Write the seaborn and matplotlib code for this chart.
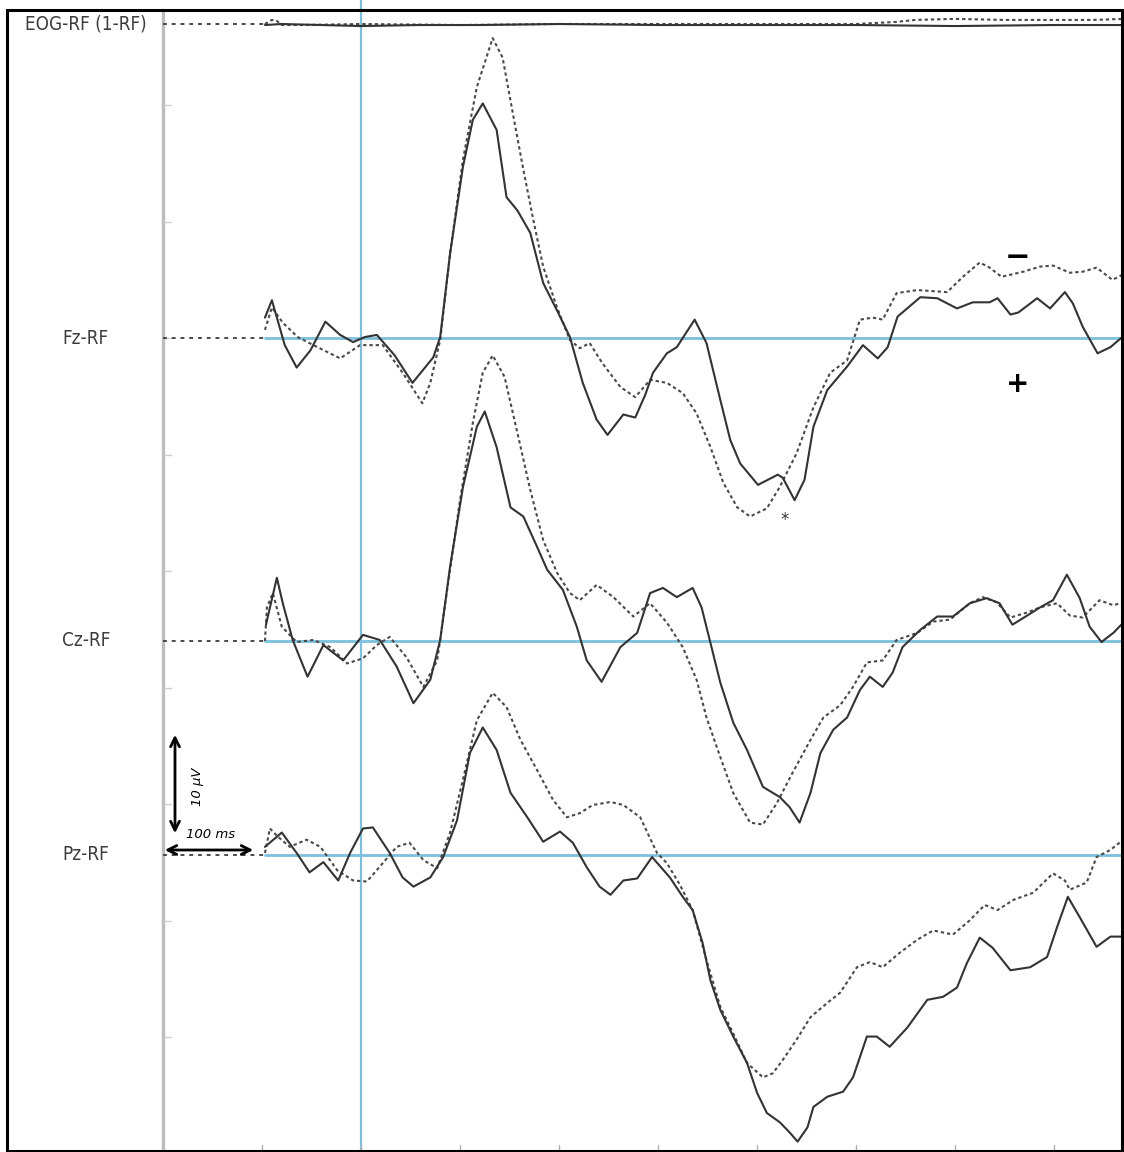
import numpy as np
import pandas as pd
import seaborn as sns
import matplotlib
matplotlib.use("Agg")
import matplotlib.pyplot as plt
from matplotlib.patches import Rectangle

sns.set_style("white")
plt.rcParams["font.family"] = ["DejaVu Sans"]

# ---------------- data: grand-average ERPs (time in ms, amplitude in µV) ----------------
channels = ["EOG-RF (1-RF)", "Fz-RF", "Cz-RF", "Pz-RF"]

eog_solid_t = [-97, -80, -40, 0, 60, 120, 200, 300, 400, 500, 600, 700, 770]
eog_solid_uv = [0.1, 0.0, 0.1, 0.2, 0.1, 0.1, 0.0, 0.1, 0.1, 0.1, 0.2, 0.1, 0.1]
eog_dash_t = [-97, -90, -85, -80, -60, 0, 100, 200, 300, 400, 500, 540, 560, 600, 650, 700, 740, 770]
eog_dash_uv = [0.0, -0.4, -0.3, 0.1, 0.1, 0.0, 0.1, 0.0, 0.0, 0.0, 0.0, -0.2, -0.4, -0.5, -0.4, -0.4, -0.4, -0.5]

fz_solid_t = [-97, -90, -77, -65, -51, -36, -21, -8, 4, 16, 34, 52, 73, 80, 90, 103, 113, 123, 137,
              147, 158, 171, 184, 198, 211, 224, 238, 249, 265, 277, 287, 295, 309, 319, 337, 349,
              363, 373, 383, 401, 421, 426, 438, 448, 457, 471, 491, 507, 522, 532, 542, 565, 582,
              602, 618, 635, 643, 656, 664, 683, 696, 711, 719, 729, 744, 757, 769]
fz_solid_uv = [-2.0, -3.7, 0.7, 2.9, 1.2, -1.6, -0.3, 0.4, -0.1, -0.3, 1.7, 4.4, 1.9, -0.1, -8.3,
               -16.8, -21.4, -23.0, -20.4, -13.8, -12.5, -10.3, -5.4, -2.7, -0.1, 4.4, 8.0, 9.5,
               7.5, 7.8, 5.6, 3.4, 1.5, 0.9, -1.8, 0.5, 6.1, 10.0, 12.3, 14.4, 13.4, 13.7, 15.9,
               13.9, 8.7, 5.1, 2.8, 0.7, 2.0, 0.9, -2.1, -4.0, -3.9, -2.9, -3.5, -3.5, -3.9, -2.3,
               -2.5, -3.9, -2.9, -4.5, -3.4, -1.1, 1.5, 0.9, -0.1]

fz_dash_t = [-97, -90, -79, -64, -48, -21, -1, 22, 42, 62, 70, 80, 90, 103, 117, 133, 143, 154, 164,
             174, 184, 198, 211, 221, 231, 244, 262, 277, 292, 309, 325, 339, 353, 366, 380, 393,
             410, 423, 440, 457, 474, 491, 504, 517, 527, 541, 562, 592, 608, 625, 635, 647, 669,
             686, 699, 716, 729, 743, 759, 769]
fz_dash_uv = [-0.8, -3.0, -1.5, -0.1, 0.7, 2.0, 0.7, 0.7, 3.4, 6.4, 4.4, 0.2, -8.3, -17.5, -24.6,
              -29.4, -27.5, -21.7, -16.5, -11.6, -7.0, -3.0, 0.2, 1.0, 0.5, 2.5, 4.8, 5.8, 4.1,
              4.4, 5.4, 7.4, 10.7, 14.2, 16.6, 17.5, 16.7, 14.6, 11.3, 6.8, 3.4, 2.2, -1.8, -2.0,
              -1.8, -4.4, -4.7, -4.5, -6.0, -7.4, -6.9, -6.0, -6.5, -7.0, -7.1, -6.4, -6.5, -6.9,
              -5.7, -6.2]

cz_solid_t = [-96, -85, -79, -69, -54, -38, -18, 2, 19, 36, 53, 70, 80, 90, 103, 117, 125, 137, 151,
              164, 178, 188, 204, 218, 228, 243, 262, 279, 292, 305, 319, 335, 344, 353, 363, 376,
              390, 406, 423, 433, 443, 454, 464, 477, 491, 504, 514, 527, 537, 547, 565, 582, 598,
              615, 632, 645, 658, 673, 686, 699, 713, 726, 736, 748, 760, 770]
cz_solid_uv = [-1.6, -6.2, -3.7, -0.1, 3.5, 0.4, 1.9, -0.6, -0.1, 2.5, 6.1, 3.8, -0.1, -7.3, -15.1,
               -21.0, -22.5, -19.0, -13.1, -12.2, -9.2, -7.0, -5.0, -1.4, 1.9, 4.0, 0.6, -0.8,
               -4.7, -5.2, -4.3, -5.2, -3.3, 0.2, 4.1, 8.0, 10.7, 14.3, 15.3, 16.3, 17.8, 14.9,
               11.0, 8.7, 7.5, 4.8, 3.5, 4.5, 3.1, 0.6, -1.1, -2.4, -2.4, -3.7, -4.2, -3.7, -1.6,
               -2.5, -3.3, -4.0, -6.5, -4.2, -1.4, 0.1, -0.8, -1.8]

cz_dash_t = [-97, -95, -89, -80, -65, -48, -31, -14, 2, 16, 29, 46, 63, 77, 87, 100, 113, 123, 133,
             145, 158, 171, 184, 198, 211, 221, 238, 255, 275, 292, 309, 325, 339, 349, 363, 376,
             393, 406, 420, 436, 454, 467, 484, 497, 511, 527, 541, 562, 578, 595, 615, 628, 642,
             656, 673, 686, 703, 716, 729, 746, 760, 770]
cz_dash_uv = [0.0, -3.3, -4.7, -1.4, 0.1, -0.1, 0.6, 2.2, 1.7, 0.4, -0.4, 1.6, 4.5, 1.9, -5.0,
              -13.8, -21.4, -26.3, -28.0, -25.9, -20.4, -14.8, -9.9, -6.7, -4.7, -4.0, -5.5, -4.3,
              -2.4, -3.7, -1.8, 0.6, 3.8, 7.5, 11.4, 14.9, 17.8, 18.0, 15.9, 12.9, 9.7, 7.5, 6.3,
              4.5, 2.1, 1.9, -0.1, -0.8, -1.9, -2.1, -3.7, -4.3, -3.8, -2.3, -2.8, -3.3, -3.7,
              -2.5, -2.3, -4.0, -3.5, -3.8]

pz_solid_t = [-97, -80, -65, -52, -38, -23, -11, 2, 12, 29, 42, 53, 70, 83, 97, 110, 123, 137, 151,
              168, 184, 201, 214, 228, 241, 252, 265, 279, 294, 312, 325, 335, 345, 353, 363, 376,
              390, 400, 410, 423, 433, 441, 451, 457, 471, 487, 497, 511, 521, 534, 552, 572, 588,
              602, 612, 625, 638, 656, 676, 693, 703, 714, 726, 743, 757, 770]
pz_solid_uv = [-0.8, -2.2, -0.2, 1.7, 0.7, 2.5, -0.2, -2.6, -2.7, -0.2, 2.2, 3.1, 2.2, 0.2, -3.4,
               -10.0, -12.5, -10.3, -6.1, -3.7, -1.3, -2.3, -1.2, 1.2, 3.1, 3.9, 2.5, 2.3, 0.2,
               2.2, 4.1, 5.4, 8.6, 12.3, 15.2, 17.8, 20.4, 23.3, 25.3, 26.2, 27.2, 28.1, 26.7,
               24.7, 23.7, 23.2, 21.8, 17.8, 17.8, 18.8, 16.9, 14.2, 13.9, 13.0, 10.6, 8.1, 9.1,
               11.3, 11.0, 10.0, 7.1, 4.1, 6.1, 9.0, 8.0, 8.0]

pz_dash_t = [-97, -92, -84, -72, -55, -41, -24, -8, 6, 22, 36, 49, 63, 77, 90, 103, 117, 133, 147,
             161, 178, 194, 208, 221, 234, 252, 265, 282, 299, 309, 322, 335, 349, 363, 376, 390,
             406, 416, 426, 440, 454, 471, 484, 501, 514, 527, 544, 562, 578, 598, 615, 630, 643,
             659, 679, 699, 711, 716, 733, 743, 757, 770]
pz_dash_uv = [-0.2, -2.6, -1.8, -0.8, -1.5, -0.8, 1.5, 2.5, 2.6, 0.8, -0.8, -1.2, 0.5, 1.3, -2.2,
              -7.4, -13.2, -15.9, -14.5, -11.3, -8.3, -5.4, -3.7, -4.1, -4.9, -5.2, -4.9, -3.7,
              -0.2, 0.8, 2.9, 5.4, 10.3, 14.9, 17.5, 20.4, 21.8, 21.4, 20.1, 18.1, 15.9, 14.5,
              13.5, 11.0, 10.5, 11.0, 9.6, 8.3, 7.4, 7.8, 6.4, 4.9, 5.4, 4.4, 3.7, 1.8, 2.5, 3.4,
              2.7, 0.2, -0.5, -1.5]

traces = {
    "EOG-RF (1-RF)": ((eog_solid_t, eog_solid_uv), (eog_dash_t, eog_dash_uv)),
    "Fz-RF": ((fz_solid_t, fz_solid_uv), (fz_dash_t, fz_dash_uv)),
    "Cz-RF": ((cz_solid_t, cz_solid_uv), (cz_dash_t, cz_dash_uv)),
    "Pz-RF": ((pz_solid_t, pz_solid_uv), (pz_dash_t, pz_dash_uv)),
}

# ---------------- layout ----------------
W, H, DPI = 1124, 1152, 100
PX_PER_MS = 0.99          # horizontal scale
PX_PER_UV = 10.2          # vertical scale (negative up)
X0 = 361                  # pixel column of stimulus onset
baseline_px = {"EOG-RF (1-RF)": 24, "Fz-RF": 338, "Cz-RF": 641, "Pz-RF": 855}


def px2t(x):
    return (x - X0) / PX_PER_MS


def px2y(y):
    return y / PX_PER_UV


fig = plt.figure(figsize=(W / DPI, H / DPI), dpi=DPI, facecolor="white")
ax = fig.add_axes([0, 0, 1, 1])
ax.set_facecolor("#fcfcfa")
ax.set_xlim(px2t(0), px2t(W))
ax.set_ylim(px2y(H), px2y(0))
ax.set_axis_off()

blue = "#7cc0dd"
trace_color = "#333333"
dash_color = "#4a4a4a"

# stimulus onset line
ax.axvline(0, color=blue, lw=1.6, zorder=1)

# left amplitude axis with small ticks
ax.plot([px2t(163), px2t(163)], [px2y(10), px2y(H)], color="#bdbdbd", lw=2.4, zorder=1)
for yt in np.arange(105, 1100, 116.5):
    ax.plot([px2t(164), px2t(171)], [px2y(yt), px2y(yt)], color="#cfcfcf", lw=1.0, zorder=1)

# time ticks every 100 ms along the bottom
for tt in range(-100, 800, 100):
    ax.plot([tt, tt], [px2y(1145), px2y(1152)], color="#b0b0b0", lw=1.0, zorder=1)

t_start = -97
for ch in channels:
    base = px2y(baseline_px[ch])
    # dotted lead-in from the axis to the epoch start
    ax.plot([px2t(163), t_start], [base, base], color=dash_color, lw=1.4,
            linestyle=(0, (2, 2.5)), zorder=2)
    if ch != "EOG-RF (1-RF)":
        ax.plot([t_start, px2t(W)], [base, base], color=blue, lw=2.0, zorder=1)
    (st, sv), (dt, dv) = traces[ch]
    df_s = pd.DataFrame({"t": st, "y": np.array(sv) + base})
    df_d = pd.DataFrame({"t": dt, "y": np.array(dv) + base})
    sns.lineplot(data=df_d, x="t", y="y", ax=ax, color=dash_color, lw=1.5,
                 linestyle=(0, (1.6, 1.4)), zorder=3, estimator=None)
    sns.lineplot(data=df_s, x="t", y="y", ax=ax, color=trace_color, lw=1.5,
                 zorder=4, estimator=None)
    lx = 25 if ch.startswith("EOG") else 62
    ax.text(px2t(lx), base, ch, ha="left", va="center", fontsize=13.5,
            fontstretch="condensed", color="#3c3c3c", zorder=5)

# calibration: 10 µV and 100 ms
ax.annotate("", xy=(px2t(175), px2y(732)), xytext=(px2t(175), px2y(836)),
            arrowprops=dict(arrowstyle="<->", lw=2.0, color="black", mutation_scale=16))
ax.text(px2t(197), px2y(787), "10 µV", rotation=90, ha="center", va="center",
        fontsize=9.5, style="italic", color="black")
ax.annotate("", xy=(px2t(162), px2y(850)), xytext=(px2t(256), px2y(850)),
            arrowprops=dict(arrowstyle="<->", lw=2.0, color="black", mutation_scale=16))
ax.text(px2t(211), px2y(834), "100 ms", ha="center", va="center",
        fontsize=9.5, style="italic", color="black")

# polarity markers and significance star
ax.text(px2t(1018), px2y(258), "\u2212", ha="center", va="center", fontsize=22,
        fontweight="bold", color="black")
ax.text(px2t(1018), px2y(384), "+", ha="center", va="center", fontsize=20,
        fontweight="bold", color="black")
ax.text(px2t(785), px2y(520), "*", ha="center", va="center", fontsize=12,
        color="#333333")

# outer frame
fig.patches.append(Rectangle((7 / W, 1 - 1151 / H), (1122 - 7) / W, (1151 - 10) / H,
                             transform=fig.transFigure, fill=False, edgecolor="black",
                             lw=2.2, zorder=10))

fig.savefig("out.png", dpi=DPI, facecolor="white")
